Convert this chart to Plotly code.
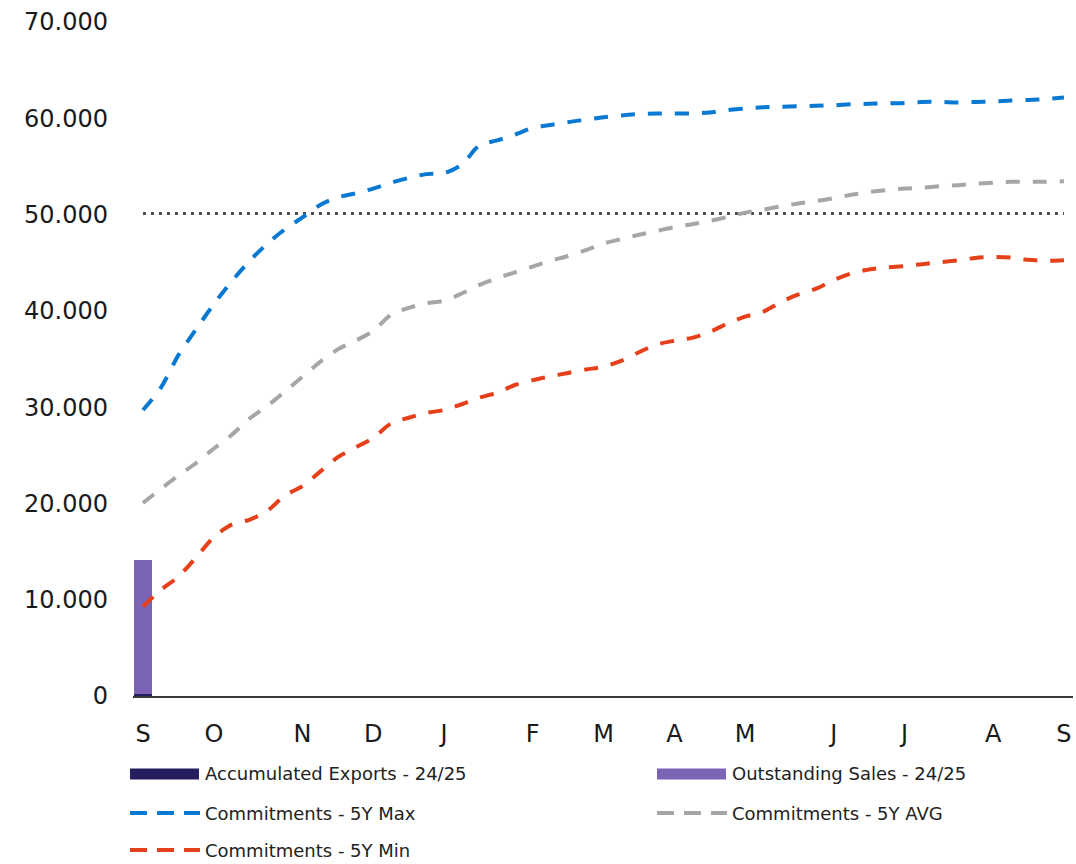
import plotly.graph_objects as go

# ---------------- data ----------------
weeks = list(range(53))
month_ticks = [0, 4, 9, 13, 17, 22, 26, 30, 34, 39, 43, 48, 52]
month_labels = ["S", "O", "N", "D", "J", "F", "M", "A", "M", "J", "J", "A", "S"]

bar_weeks = [0]
accumulated_exports = [200]
outstanding_sales = [13900]

commit_max = [29700, 32000, 35400, 38100, 40700, 43050, 45150, 46950, 48450, 49700,
              51000, 51800, 52200, 52700, 53300, 53800, 54200, 54300, 55200, 57200,
              57700, 58300, 59000, 59300, 59600, 59850, 60100, 60300, 60450, 60500,
              60500, 60500, 60600, 60850, 61000, 61150, 61200, 61250, 61300, 61350,
              61450, 61500, 61550, 61600, 61700, 61700, 61650, 61700, 61750, 61850,
              61900, 62000, 62150]
commit_avg = [20050, 21500, 22900, 24200, 25700, 27100, 28800, 30100, 31600, 33150,
              34700, 36000, 36900, 37900, 39600, 40300, 40800, 41050, 41800, 42700,
              43400, 44000, 44600, 45200, 45700, 46300, 47000, 47450, 47900, 48300,
              48700, 49000, 49350, 49750, 50200, 50500, 50850, 51150, 51400, 51700,
              52050, 52350, 52550, 52700, 52800, 52950, 53050, 53200, 53300, 53400,
              53400, 53400, 53450]
commit_min = [9300, 11000, 12400, 14400, 16500, 17800, 18300, 19200, 20800, 21800,
              23300, 24800, 25800, 26800, 28300, 28900, 29400, 29700, 30300, 31000,
              31500, 32300, 32800, 33200, 33550, 33900, 34200, 34800, 35700, 36500,
              36900, 37200, 37800, 38700, 39400, 39900, 40900, 41700, 42300, 43200,
              43900, 44300, 44500, 44650, 44850, 45050, 45250, 45500, 45600, 45550,
              45300, 45200, 45250]
reference_weeks = [0, 52]
reference_level = [50100, 50100]

y_ticks = [0, 10000, 20000, 30000, 40000, 50000, 60000, 70000]

# ---------------- styles ----------------
C_NAVY = "#241E5E"
C_PURPLE = "#7B63B6"
C_BLUE = "#0879D3"
C_GREY = "#A6A6A6"
C_RED = "#E6401B"
C_DOT = "#505050"
DASH = "14px,13px"
FONT = "DejaVu Sans"

W, H = 1076, 864
L, R, T, B = 133, 3, 22, 168

fig = go.Figure()
fig.add_trace(go.Bar(x=bar_weeks, y=accumulated_exports, width=1, marker_color=C_NAVY,
                     marker_line_width=0, name="Accumulated Exports - 24/25"))
fig.add_trace(go.Bar(x=bar_weeks, y=outstanding_sales, width=1, marker_color=C_PURPLE,
                     marker_line_width=0, name="Outstanding Sales - 24/25"))
fig.add_trace(go.Scatter(x=reference_weeks, y=reference_level, mode="lines",
                         line=dict(color=C_DOT, width=3, dash="3px,5px"), name="ref"))
for vals, col, nm in [(commit_max, C_BLUE, "Commitments - 5Y Max"),
                      (commit_avg, C_GREY, "Commitments - 5Y AVG"),
                      (commit_min, C_RED, "Commitments - 5Y Min")]:
    fig.add_trace(go.Scatter(x=weeks, y=vals, mode="lines", name=nm,
                             line=dict(color=col, width=4, dash=DASH, shape="spline", smoothing=0.8)))

# ---------------- custom legend (pixel helpers) ----------------
pw, ph = W - L - R, H - T - B
def px(xp):
    return (xp - L) / pw
def py(yp):
    return (H - B - yp) / ph

legend_items = [
    ("bar", C_NAVY, "Accumulated Exports - 24/25", 130, 774),
    ("bar", C_PURPLE, "Outstanding Sales - 24/25", 657, 774),
    ("line", C_BLUE, "Commitments - 5Y Max", 130, 813),
    ("line", C_GREY, "Commitments - 5Y AVG", 657, 813),
    ("line", C_RED, "Commitments - 5Y Min", 130, 850),
]
shapes = []
annotations = []
for kind, col, label, x0, yc in legend_items:
    if kind == "bar":
        shapes.append(dict(type="rect", xref="paper", yref="paper",
                           x0=px(x0), x1=px(x0 + 69), y0=py(yc - 5.5), y1=py(yc + 5.5),
                           fillcolor=col, line=dict(width=0)))
    else:
        shapes.append(dict(type="line", xref="paper", yref="paper",
                           x0=px(x0), x1=px(x0 + 70), y0=py(yc), y1=py(yc),
                           line=dict(color=col, width=4, dash="17px,10px")))
    annotations.append(dict(text=label, xref="paper", yref="paper", x=px(x0 + 73), y=py(yc),
                            xanchor="left", yanchor="middle", showarrow=False,
                            font=dict(family=FONT, size=18, color="#222222")))

fig.update_layout(
    width=W, height=H,
    margin=dict(l=L, r=R, t=T, b=B, pad=0),
    paper_bgcolor="white", plot_bgcolor="white",
    barmode="stack", showlegend=False,
    separators=",.",
    font=dict(family=FONT, color="#1a1a1a"),
    shapes=shapes, annotations=annotations,
)
fig.update_xaxes(range=[-0.565, 52.51], tickmode="array", tickvals=month_ticks, ticktext=month_labels,
                 showgrid=False, zeroline=False, showline=True, linecolor="#3a3a3a", linewidth=2,
                 ticks="", ticklabelstandoff=15, tickfont=dict(family=FONT, size=24, color="#1a1a1a"))
fig.update_yaxes(range=[0, 70000], tickmode="array", tickvals=y_ticks, tickformat=",.0f",
                 showgrid=False, zeroline=False, showline=False, ticks="",
                 ticklabelstandoff=24, tickfont=dict(family=FONT, size=24, color="#1a1a1a"))

fig.write_html("out.html", config={"displayModeBar": False},
               post_script="document.body.style.margin='0px';")
